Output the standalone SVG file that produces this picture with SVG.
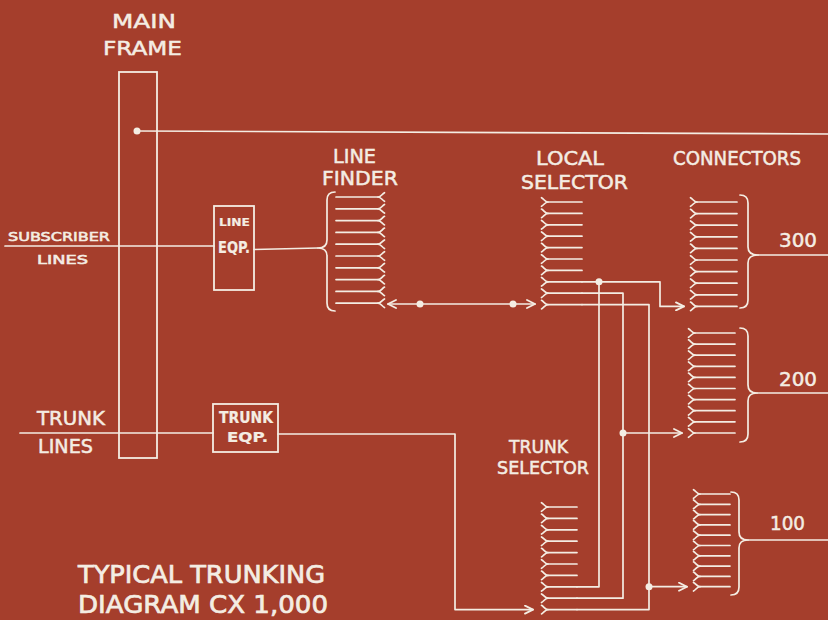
<svg xmlns="http://www.w3.org/2000/svg" xmlns:xlink="http://www.w3.org/1999/xlink" width="828" height="620" viewBox="0 0 828 620">
<style>
.ln{fill:none;stroke:#f4ede3;stroke-width:1.7;stroke-linecap:round;stroke-linejoin:round}
.bx{fill:none;stroke:#f4ede3;stroke-width:1.8}
.dot{fill:#f4ede3}
text{fill:#f4ede3;stroke:#f4ede3;stroke-width:0.5;font-family:"DejaVu Sans","Liberation Sans",sans-serif}
.lg{font-size:20px}
.sm{font-size:13px;stroke-width:0.6}
.tt{font-size:24px;stroke-width:0.7}
</style>
<defs>
<path id="fL" class="ln" d="M0,0 C-3,0 -4,-3 -6.5,-4.3 M0,0 C-3,0 -4,3 -6.5,4.3"/>
<path id="fR" class="ln" d="M0,0 C3,0 4,-3 6.5,-4.3 M0,0 C3,0 4,3 6.5,4.3"/>
<marker id="ah" viewBox="0 0 10 10" refX="9" refY="5" markerWidth="10" markerHeight="10" markerUnits="userSpaceOnUse" orient="auto-start-reverse">
<path d="M1,1 L9,5 L1,9" fill="none" stroke="#f4ede3" stroke-width="1.8" stroke-linecap="round" stroke-linejoin="round"/>
</marker>
</defs>
<rect width="828" height="620" fill="#a53e2c"/>

<g id="main-frame">
<rect class="bx" x="119" y="72" width="38" height="386"/>
<circle class="dot" cx="137" cy="131" r="3.5"/>
<text class="lg" x="112" y="28" textLength="64" lengthAdjust="spacingAndGlyphs">MAIN</text>
<text class="lg" x="103" y="55" textLength="79" lengthAdjust="spacingAndGlyphs">FRAME</text>
</g>

<g id="subscriber-lines">
<text class="sm" x="8" y="241" textLength="102" lengthAdjust="spacingAndGlyphs">SUBSCRIBER</text>
<text class="sm" x="37" y="264" textLength="51" lengthAdjust="spacingAndGlyphs">LINES</text>
</g>

<g id="trunk-lines">
<text class="lg" x="37" y="425" textLength="68" lengthAdjust="spacingAndGlyphs" style="font-size:19px">TRUNK</text>
<text class="lg" x="38" y="453" textLength="55" lengthAdjust="spacingAndGlyphs" style="font-size:19px">LINES</text>
</g>

<g id="line-eqp">
<rect class="bx" x="214" y="206" width="40" height="84"/>
<text x="219" y="226" textLength="31" lengthAdjust="spacingAndGlyphs" style="font-size:11px;font-weight:bold;stroke-width:0.2">LINE</text>
<text x="218" y="253" textLength="32" lengthAdjust="spacingAndGlyphs" style="font-size:15px;font-weight:bold;stroke-width:0.2">EQP.</text>
</g>

<g id="trunk-eqp">
<rect class="bx" x="213" y="404" width="65" height="48"/>
<text x="219" y="423" textLength="54" lengthAdjust="spacingAndGlyphs" style="font-size:15px;font-weight:bold;stroke-width:0.2">TRUNK</text>
<text x="227" y="442" textLength="41" lengthAdjust="spacingAndGlyphs" style="font-size:14px;font-weight:bold;stroke-width:0.2">EQP.</text>
</g>

<g id="line-finder">
<text class="lg" x="333" y="163" textLength="43" lengthAdjust="spacingAndGlyphs">LINE</text>
<text class="lg" x="322" y="185" textLength="76" lengthAdjust="spacingAndGlyphs">FINDER</text>
<path class="ln" d="M335,192 Q327,192 327,200 V240 Q327,248 318,248 Q327,248 327,256 V303 Q327,311 335,311"/>
<path class="ln" d="M336,197 H378 M336,208.8 H378 M336,220.6 H378 M336,232.4 H378 M336,244.2 H378 M336,256 H378 M336,267.8 H378 M336,279.6 H378 M336,291.4 H378 M336,303.2 H378"/>
<use xlink:href="#fR" x="378" y="197"/><use xlink:href="#fR" x="378" y="208.8"/><use xlink:href="#fR" x="378" y="220.6"/><use xlink:href="#fR" x="378" y="232.4"/><use xlink:href="#fR" x="378" y="244.2"/><use xlink:href="#fR" x="378" y="256"/><use xlink:href="#fR" x="378" y="267.8"/><use xlink:href="#fR" x="378" y="279.6"/><use xlink:href="#fR" x="378" y="291.4"/><use xlink:href="#fR" x="378" y="303.2"/>
</g>

<g id="local-selector">
<text class="lg" x="536" y="165" textLength="68" lengthAdjust="spacingAndGlyphs">LOCAL</text>
<text class="lg" x="521" y="189" textLength="107" lengthAdjust="spacingAndGlyphs">SELECTOR</text>
<path class="ln" d="M548,202 H582 M548,213.4 H582 M548,224.8 H582 M548,236.2 H582 M548,247.6 H582 M548,259 H582 M548,270.4 H582 M548,281.8 H582 M548,293.2 H582 M548,304.6 H582"/>
<use xlink:href="#fL" x="548" y="202"/><use xlink:href="#fL" x="548" y="213.4"/><use xlink:href="#fL" x="548" y="224.8"/><use xlink:href="#fL" x="548" y="236.2"/><use xlink:href="#fL" x="548" y="247.6"/><use xlink:href="#fL" x="548" y="259"/><use xlink:href="#fL" x="548" y="270.4"/><use xlink:href="#fL" x="548" y="281.8"/><use xlink:href="#fL" x="548" y="293.2"/><use xlink:href="#fL" x="548" y="304.6"/>
</g>

<g id="trunk-selector">
<text class="lg" x="509" y="453" textLength="59" lengthAdjust="spacingAndGlyphs" style="font-size:18px">TRUNK</text>
<text class="lg" x="497" y="474" textLength="92" lengthAdjust="spacingAndGlyphs" style="font-size:18px">SELECTOR</text>
<path class="ln" d="M548,507 H577 M548,518.4 H577 M548,529.8 H577 M548,541.2 H577 M548,552.6 H577 M548,564 H577 M548,575.4 H577 M548,586.8 H577 M548,598.2 H577 M548,609.6 H577"/>
<use xlink:href="#fL" x="548" y="507"/><use xlink:href="#fL" x="548" y="518.4"/><use xlink:href="#fL" x="548" y="529.8"/><use xlink:href="#fL" x="548" y="541.2"/><use xlink:href="#fL" x="548" y="552.6"/><use xlink:href="#fL" x="548" y="564"/><use xlink:href="#fL" x="548" y="575.4"/><use xlink:href="#fL" x="548" y="586.8"/><use xlink:href="#fL" x="548" y="598.2"/><use xlink:href="#fL" x="548" y="609.6"/>
</g>

<g id="connectors-300">
<text class="lg" x="673" y="165" textLength="128" lengthAdjust="spacingAndGlyphs" style="font-size:19px">CONNECTORS</text>
<path class="ln" d="M697,202 H737 M697,213.6 H737 M697,225.2 H737 M697,236.8 H737 M697,248.4 H737 M697,260 H737 M697,271.6 H737 M697,283.2 H737 M697,294.8 H737 M697,306.4 H737"/>
<use xlink:href="#fL" x="697" y="202"/><use xlink:href="#fL" x="697" y="213.6"/><use xlink:href="#fL" x="697" y="225.2"/><use xlink:href="#fL" x="697" y="236.8"/><use xlink:href="#fL" x="697" y="248.4"/><use xlink:href="#fL" x="697" y="260"/><use xlink:href="#fL" x="697" y="271.6"/><use xlink:href="#fL" x="697" y="283.2"/><use xlink:href="#fL" x="697" y="294.8"/><use xlink:href="#fL" x="697" y="306.4"/>
<path class="ln" d="M740,195 Q748,195 748,203 V247 Q748,255 758,255 Q748,255 748,263 V300 Q748,308 740,308"/>
<text class="lg" x="779" y="247" textLength="38" lengthAdjust="spacingAndGlyphs">300</text>
</g>

<g id="connectors-200">
<path class="ln" d="M695,333 H735 M695,344.1 H735 M695,355.2 H735 M695,366.3 H735 M695,377.4 H735 M695,388.5 H735 M695,399.6 H735 M695,410.7 H735 M695,421.8 H735 M695,433 H735"/>
<use xlink:href="#fL" x="695" y="333"/><use xlink:href="#fL" x="695" y="344.1"/><use xlink:href="#fL" x="695" y="355.2"/><use xlink:href="#fL" x="695" y="366.3"/><use xlink:href="#fL" x="695" y="377.4"/><use xlink:href="#fL" x="695" y="388.5"/><use xlink:href="#fL" x="695" y="399.6"/><use xlink:href="#fL" x="695" y="410.7"/><use xlink:href="#fL" x="695" y="421.8"/><use xlink:href="#fL" x="695" y="433"/>
<path class="ln" d="M740,328 Q748,328 748,336 V385 Q748,393 757,393 Q748,393 748,401 V434 Q748,442 740,442"/>
<text class="lg" x="779" y="386" textLength="38" lengthAdjust="spacingAndGlyphs">200</text>
</g>

<g id="connectors-100">
<path class="ln" d="M700,494 H730 M700,504.3 H730 M700,514.6 H730 M700,524.9 H730 M700,535.2 H730 M700,545.5 H730 M700,555.8 H730 M700,566.1 H730 M700,576.4 H730 M700,586.7 H730"/>
<use xlink:href="#fL" x="700" y="494"/><use xlink:href="#fL" x="700" y="504.3"/><use xlink:href="#fL" x="700" y="514.6"/><use xlink:href="#fL" x="700" y="524.9"/><use xlink:href="#fL" x="700" y="535.2"/><use xlink:href="#fL" x="700" y="545.5"/><use xlink:href="#fL" x="700" y="555.8"/><use xlink:href="#fL" x="700" y="566.1"/><use xlink:href="#fL" x="700" y="576.4"/><use xlink:href="#fL" x="700" y="586.7"/>
<path class="ln" d="M731,492 Q739,492 739,500 V532 Q739,540 748,540 Q739,540 739,548 V587 Q739,595 731,595"/>
<text class="lg" x="770" y="530" textLength="35" lengthAdjust="spacingAndGlyphs">100</text>
</g>

<g id="title">
<text class="tt" x="78" y="583" textLength="247" lengthAdjust="spacingAndGlyphs">TYPICAL TRUNKING</text>
<text class="tt" x="78" y="613" textLength="250" lengthAdjust="spacingAndGlyphs">DIAGRAM CX 1,000</text>
</g>

<g id="connectors">
<path class="ln" d="M137,131 L828,134"/>
<path class="ln" d="M5,246 H214"/>
<path class="ln" d="M254,249.5 L318,248"/>
<path class="ln" d="M20,433 H213"/>
<path class="ln" d="M278,434 H455 V609.6 H533" marker-end="url(#ah)"/>
<path class="ln" d="M388,304 H535" marker-start="url(#ah)" marker-end="url(#ah)"/>
<circle class="dot" cx="420" cy="304" r="3.5"/>
<circle class="dot" cx="513" cy="304" r="3.5"/>
<path class="ln" d="M582,281.8 H660 V306.4 H684" marker-end="url(#ah)"/>
<path class="ln" d="M582,293.2 H623 V598.2 H577"/>
<path class="ln" d="M582,304.6 H649 V609.6 H577"/>
<path class="ln" d="M599,281.8 V586.8 H577"/>
<circle class="dot" cx="599" cy="281.8" r="3.5"/>
<path class="ln" d="M623,433 H682" marker-end="url(#ah)"/>
<circle class="dot" cx="623" cy="433" r="3.5"/>
<path class="ln" d="M649,586.7 H687" marker-end="url(#ah)"/>
<circle class="dot" cx="649" cy="586.7" r="3.5"/>
<path class="ln" d="M758,255 H828 M757,393 H828 M748,540 H828"/>
</g>
</svg>
